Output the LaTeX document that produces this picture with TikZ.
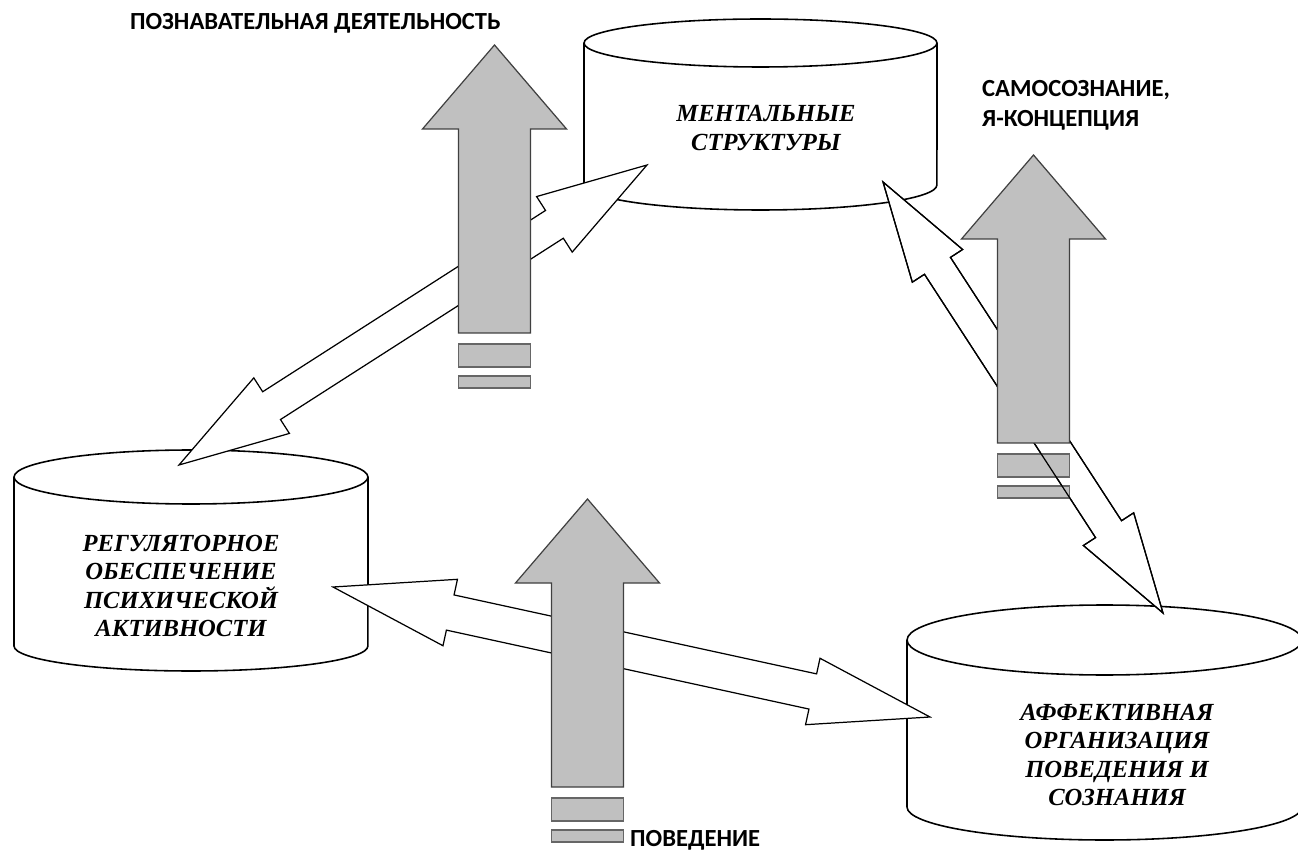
\documentclass[tikz,border=0pt]{standalone}
\usepackage{fontspec}
\setmainfont{Liberation Serif}
\newfontfamily\labelfont{Carlito}
\usetikzlibrary{calc}

\definecolor{arrowfill}{RGB}{192,192,192}
\definecolor{arrowedge}{RGB}{64,64,64}

% двойная стрелка: [стиль]{от}{до}{длина головки}{полуширина головки}{полуширина ствола}
\newcommand{\dblarrow}[6][]{%
  \coordinate (hA) at ($(#2)!#4!(#3)$);
  \coordinate (hB) at ($(#3)!#4!(#2)$);
  \draw[whitearrow,#1] (#2)
    -- ($(hA)!#5!90:(#3)$) -- ($(hA)!#6!90:(#3)$)
    -- ($(hB)!#6!90:(#3)$) -- ($(hB)!#5!90:(#3)$)
    -- (#3)
    -- ($(hB)!#5!-90:(#3)$) -- ($(hB)!#6!-90:(#3)$)
    -- ($(hA)!#6!-90:(#3)$) -- ($(hA)!#5!-90:(#3)$)
    -- cycle;}

% серая стрелка вверх: {x оси}{y острия}
\newcommand{\upblock}[2]{%
  \draw[blockarrow] (#1,#2) -- ++(72,84) -- ++(-36,0) -- ++(0,204)
    -- ++(-72,0) -- ++(0,-204) -- ++(-36,0) -- cycle;}
\newcommand{\blockbars}[2]{%
  \draw[blockbar] ({#1-36},{#2+299}) rectangle ++(72,23);
  \draw[blockbar] ({#1-36},{#2+331}) rectangle ++(72,12);}

\begin{document}
\begin{tikzpicture}[x=0.02cm, y=-0.02cm,
    cyl/.style={draw=black, line width=0.9pt},
    whitearrow/.style={draw=black, fill=white, line width=0.7pt, line join=miter},
    blockarrow/.style={draw=arrowedge, fill=arrowfill, line width=0.7pt},
    blockbar/.style={draw=arrowedge!80, fill=arrowfill, line width=0.6pt},
    boxtext/.style={font=\bfseries\itshape\fontsize{14}{16.3}\selectfont, align=center},
    captext/.style={font=\labelfont\bfseries\fontsize{14}{17}\selectfont, align=left}]
    \useasboundingbox (0,0) rectangle (1298,854);

    % цилиндры
    \draw[cyl] (584,43) -- (584,185) arc[start angle=180, end angle=360, x radius=3.53cm, y radius=0.5cm] -- (937,43);
    \draw[cyl] (760.5,43) ellipse [x radius=3.53cm, y radius=0.48cm];
    \node[boxtext] (mental) at (766,128) {МЕНТАЛЬНЫЕ\\СТРУКТУРЫ};

    \draw[cyl] (14,477) -- (14,646) arc[start angle=180, end angle=360, x radius=3.54cm, y radius=0.5cm] -- (368,477);
    \draw[cyl] (191,477) ellipse [x radius=3.54cm, y radius=0.54cm];
    \node[boxtext] (regul) at (181,586) {РЕГУЛЯТОРНОЕ\\ОБЕСПЕЧЕНИЕ\\ПСИХИЧЕСКОЙ\\АКТИВНОСТИ};

    \draw[cyl] (907,640) -- (907,807) arc[start angle=180, end angle=360, x radius=3.95cm, y radius=0.66cm] -- (1302,640);
    \draw[cyl] (1104.5,640) ellipse [x radius=3.95cm, y radius=0.7cm];
    \node[boxtext] (affect) at (1117,755) {АФФЕКТИВНАЯ\\ОРГАНИЗАЦИЯ\\ПОВЕДЕНИЯ И\\СОЗНАНИЯ};

    % концы двойных стрелок
    \coordinate (mentL) at (647,165);
    \coordinate (regT) at (179,465);
    \coordinate (mentR) at (883,182);
    \coordinate (affT) at (1163,613);
    \coordinate (regR) at (333,587);
    \coordinate (affL) at (930,717);

    \dblarrow{mentL}{regT}{2.2cm}{0.66cm}{0.33cm}
    \dblarrow{mentR}{affT}{2.0cm}{0.6cm}{0.31cm}
    \dblarrow{regR}{affL}{2.4cm}{0.68cm}{0.36cm}

    % серые стрелки
    \blockbars{494.5}{45}
    \blockbars{1033.5}{155}
    \blockbars{587.5}{499}
    \dblarrow[fill=none]{mentR}{affT}{2.0cm}{0.6cm}{0.31cm}
    \upblock{494.5}{45}
    \upblock{1033.5}{155}
    \upblock{587.5}{499}

    % подписи
    \node[captext, anchor=west] (cognit) at (124,23) {ПОЗНАВАТЕЛЬНАЯ ДЕЯТЕЛЬНОСТЬ};
    \node[captext, anchor=west] (selfc) at (976,105) {САМОСОЗНАНИЕ,\\Я-КОНЦЕПЦИЯ};
    \node[captext, anchor=west] (behav) at (624,840) {ПОВЕДЕНИЕ};
\end{tikzpicture}
\end{document}
